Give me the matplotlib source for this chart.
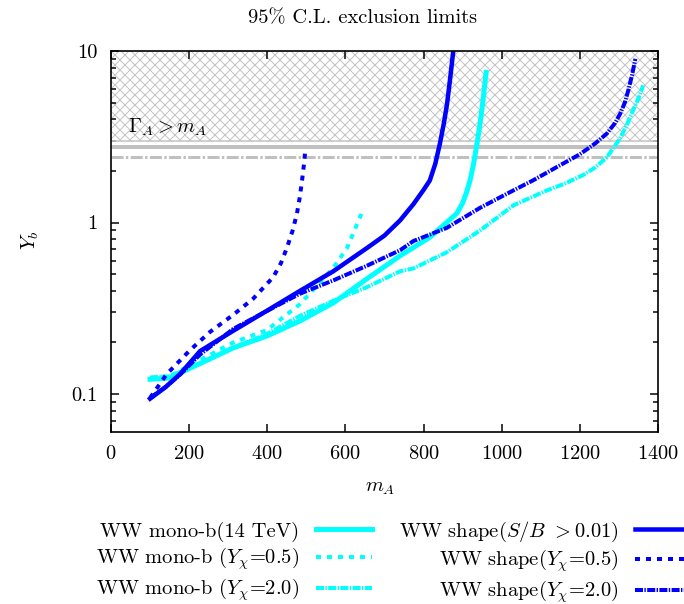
import numpy as np
import matplotlib
matplotlib.use('Agg')
import matplotlib.pyplot as plt
from matplotlib.ticker import FixedLocator, FixedFormatter, LogLocator, NullFormatter

plt.rcParams['font.family'] = 'serif'
plt.rcParams['font.serif'] = ['cmr10']
plt.rcParams['mathtext.fontset'] = 'cm'
plt.rcParams['axes.formatter.use_mathtext'] = True
plt.rcParams['hatch.linewidth'] = 0.6
plt.rcParams['hatch.color'] = '#c4c4c4'

# --- data ---
mA_mono = [100, 150, 177, 313, 399, 484, 569, 655, 688, 740, 816, 885, 900, 910, 919, 928, 937, 944, 950, 955, 960]
Y_mono = [0.122, 0.124, 0.133, 0.186, 0.218, 0.267, 0.34, 0.47, 0.53, 0.64, 0.82, 1.13, 1.3, 1.5, 1.76, 2.2, 2.9, 3.7, 4.7, 5.9, 7.5]

mA_mono05 = [100, 150, 228, 313, 399, 484, 569, 604, 642]
Y_mono05 = [0.124, 0.127, 0.158, 0.2, 0.236, 0.335, 0.545, 0.71, 1.14]

mA_mono20 = [100, 150, 228, 313, 399, 484, 569, 655, 740, 774, 859, 945, 1030, 1116, 1160, 1210, 1240,
             1269, 1290, 1303, 1320, 1336, 1350, 1362]
Y_mono20 = [0.125, 0.127, 0.15, 0.186, 0.224, 0.286, 0.35, 0.42, 0.52, 0.54, 0.67, 0.9, 1.26, 1.54, 1.68, 1.9, 2.1,
            2.4, 2.8, 3.1, 3.7, 4.5, 5.3, 6.3]

mA_shape = [100, 140, 177, 228, 313, 399, 484, 569, 655, 700, 740, 774, 800, 816, 830, 842, 852, 860, 867, 872, 876]
Y_shape = [0.094, 0.11, 0.131, 0.178, 0.234, 0.306, 0.40, 0.52, 0.71, 0.84, 1.03, 1.28, 1.55, 1.76, 2.2, 2.9, 3.8,
           4.9, 6.6, 8.3, 10.0]

mA_shape05 = [100, 143, 202, 253, 313, 364, 415, 435, 450, 465, 476, 483, 489, 494, 497]
Y_shape05 = [0.095, 0.131, 0.18, 0.23, 0.29, 0.36, 0.48, 0.58, 0.71, 0.9, 1.13, 1.4, 1.76, 2.2, 2.6]

mA_shape20 = [100, 140, 177, 228, 313, 399, 484, 569, 655, 740, 774, 859, 945, 1030, 1080, 1140, 1200, 1240,
              1269, 1290, 1303, 1315, 1324, 1334, 1342]
Y_shape20 = [0.095, 0.11, 0.13, 0.17, 0.24, 0.305, 0.385, 0.46, 0.56, 0.69, 0.78, 0.93, 1.22, 1.54, 1.76, 2.1, 2.5,
             2.9, 3.3, 3.8, 4.3, 5.0, 5.9, 7.3, 9.0]

labels = ['WW mono-b(14 TeV)', r'WW mono-b ($Y_\chi$=0.5)', r'WW mono-b ($Y_\chi$=2.0)',
          r'WW shape($S/B$ $>$0.01)', r'WW shape($Y_\chi$=0.5)', r'WW shape($Y_\chi$=2.0)']

width_limit = 2.95   # Gamma_A > m_A region
x_ticks = [0, 200, 400, 600, 800, 1000, 1200, 1400]
y_ticks = [0.1, 1, 10]
y_ticklabels = ['0.1', '1', '10']

cyan = '#00ffff'
blue = '#0000ff'
fs = 12.3

fig = plt.figure(figsize=(5.7, 604 / 120), dpi=120)
ax = fig.add_axes([111 / 684, 1 - 432 / 604, 547 / 684, 381 / 604])

# excluded region
ax.axhspan(width_limit, 10, facecolor='none', edgecolor='#c4c4c4', hatch='xxxx', linewidth=0)
ax.axhline(2.97, color='#c8c8c8', lw=1.0)
ax.axhline(2.76, color='#c0c0c0', lw=2.4)
ax.axhline(2.40, color='#c0c0c0', lw=1.8, dashes=(4, 0.8, 0.8, 0.8))
ax.text(44, 3.1, r'$\Gamma_A > m_A$', fontsize=fs, ha='left', va='bottom')

dot = (1.25, 1.5)
dashdot = (2.0, 0.35, 0.35, 0.35)

l1, = ax.plot(mA_mono, Y_mono, color=cyan, lw=3.0, solid_joinstyle='round')
l2, = ax.plot(mA_mono05, Y_mono05, color=cyan, lw=2.4, dashes=dot)
l3, = ax.plot(mA_mono20, Y_mono20, color=cyan, lw=2.4, dashes=dashdot)
l4, = ax.plot(mA_shape, Y_shape, color=blue, lw=2.7, solid_joinstyle='round')
l5, = ax.plot(mA_shape05, Y_shape05, color=blue, lw=2.4, dashes=dot)
l6, = ax.plot(mA_shape20, Y_shape20, color=blue, lw=2.4, dashes=dashdot)

ax.set_yscale('log')
ax.set_xlim(0, 1400)
ax.set_ylim(0.0601, 10)
ax.xaxis.set_major_locator(FixedLocator(x_ticks))
ax.yaxis.set_major_locator(FixedLocator(y_ticks))
ax.yaxis.set_major_formatter(FixedFormatter(y_ticklabels))
ax.yaxis.set_minor_locator(LogLocator(base=10, subs=np.arange(2, 10)))
ax.yaxis.set_minor_formatter(NullFormatter())
ax.tick_params(which='both', direction='in', top=True, right=True, labelsize=fs, pad=8)
ax.tick_params(which='major', length=5, width=0.9)
ax.tick_params(which='minor', length=3, width=0.9)
for s in ax.spines.values():
    s.set_linewidth(1.0)

fig.text(363 / 684, 1 - 18 / 604, '95% C.L. exclusion limits', fontsize=fs, ha='center', va='center')
fig.text(30 / 684, 1 - 240 / 604, r'$Y_b$', fontsize=fs, rotation=90, ha='center', va='center')
fig.text(380 / 684, 1 - 488 / 604, r'$m_A$', fontsize=fs, ha='center', va='center')

fig.legend([l1, l2, l3, l4, l5, l6], labels, ncol=2, markerfirst=False, frameon=False,
           fontsize=fs, handlelength=2.75, handletextpad=0.8, columnspacing=1.3,
           labelspacing=0.2, loc='upper center', bbox_to_anchor=(394 / 684, 1 - 501 / 604))

fig.savefig('out.png', dpi=120)
